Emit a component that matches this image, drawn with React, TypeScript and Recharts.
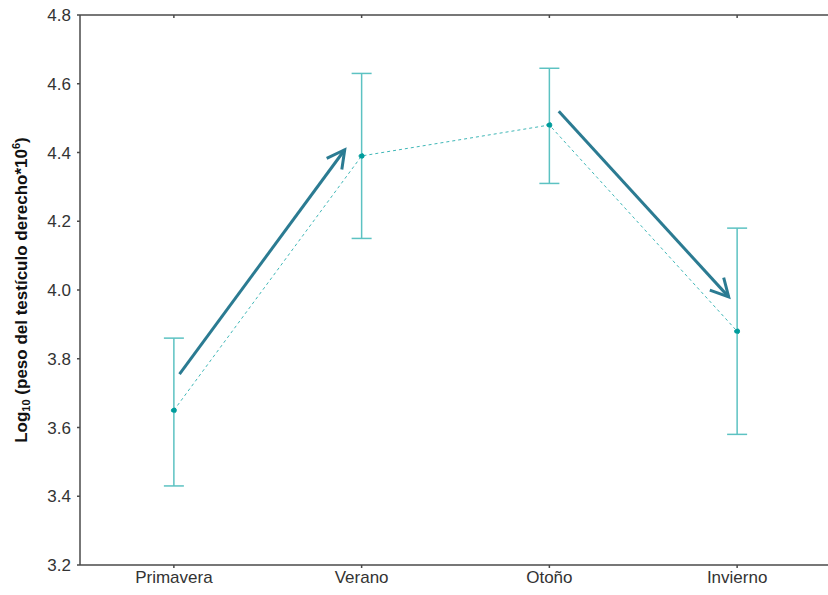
import { ComposedChart, Line, ErrorBar, XAxis, YAxis, ReferenceLine, Label } from "recharts";

// Seasonal means of log10 right-testis weight with their interval bounds
const seasons = ["Primavera", "Verano", "Otoño", "Invierno"];
const means = [3.65, 4.39, 4.48, 3.88];
const lower = [3.43, 4.15, 4.31, 3.58];
const upper = [3.86, 4.63, 4.645, 4.18];

const yTicks = [3.2, 3.4, 3.6, 3.8, 4.0, 4.2, 4.4, 4.6, 4.8];
const xTicks = [0, 1, 2, 3];

// Trend arrows, in data units (x = season index, y = log weight)
const arrowStart = [
  { x: 0.03, y: 3.755 },
  { x: 2.05, y: 4.52 },
];
const arrowEnd = [
  { x: 0.91, y: 4.408 },
  { x: 2.955, y: 3.98 },
];

const data = seasons.map((s, i) => ({
  idx: i,
  name: s,
  mean: means[i],
  err: [means[i] - lower[i], upper[i] - means[i]],
}));

const FONT = "'Liberation Sans', Arial, sans-serif";
const AXIS = "#4a4a4a";
const ARROW = "#2b7b92";

function Arrow(props: any) {
  const { x1, y1, x2, y2 } = props;
  const ang = Math.atan2(y1 - y2, x1 - x2);
  const len = 20;
  const spread = (28 * Math.PI) / 180;
  const w1 = { x: x2 + len * Math.cos(ang + spread), y: y2 + len * Math.sin(ang + spread) };
  const w2 = { x: x2 + len * Math.cos(ang - spread), y: y2 + len * Math.sin(ang - spread) };
  return (
    <g stroke={ARROW} strokeWidth={3} fill="none" strokeLinecap="butt" strokeLinejoin="miter">
      <line x1={x1} y1={y1} x2={x2} y2={y2} />
      <polyline points={`${w1.x},${w1.y} ${x2},${y2} ${w2.x},${w2.y}`} />
    </g>
  );
}

function YTitle() {
  return (
    <text
      transform="translate(27, 290) rotate(-90)"
      textAnchor="middle"
      fontFamily={FONT}
      fontWeight="bold"
      fontSize={17}
      fill="#111"
    >
      Log
      <tspan fontSize={11} dy={3}>10</tspan>
      <tspan dy={-3}> (peso del testículo derecho*10</tspan>
      <tspan fontSize={11} dy={-7}>6</tspan>
      <tspan dy={7}>)</tspan>
    </text>
  );
}

export default function App() {
  return (
    <div
      style={{
        position: "absolute",
        left: 0,
        top: 0,
        width: 828,
        height: 595,
        overflow: "hidden",
        background: "#fff",
      }}
    >
      <ComposedChart
        width={831}
        height={595}
        data={data}
        margin={{ top: 15, right: 0, bottom: 0, left: 0 }}
      >
        <XAxis
          dataKey="idx"
          type="number"
          domain={[-0.5, 3.5]}
          ticks={xTicks}
          tickFormatter={(v: number) => seasons[v]}
          height={30}
          stroke={AXIS}
          strokeWidth={1.5}
          tickSize={3}
          tickMargin={3}
          tick={{ fill: "#333", fontSize: 17, fontFamily: FONT }}
        />
        <XAxis
          xAxisId="top"
          orientation="top"
          dataKey="idx"
          type="number"
          domain={[-0.5, 3.5]}
          ticks={xTicks}
          mirror
          height={1}
          tickFormatter={() => ""}
          tickSize={3}
          stroke={AXIS}
          strokeWidth={1.5}
        />
        <YAxis
          type="number"
          domain={[3.2, 4.8]}
          ticks={yTicks}
          tickFormatter={(v: number) => v.toFixed(1)}
          width={80}
          stroke={AXIS}
          strokeWidth={1.5}
          tickSize={3}
          tickMargin={6}
          tick={{ fill: "#333", fontSize: 17, fontFamily: FONT }}
        >
          <Label content={<YTitle />} />
        </YAxis>
        <YAxis
          yAxisId="r"
          orientation="right"
          type="number"
          domain={[3.2, 4.8]}
          ticks={yTicks}
          mirror
          width={1}
          axisLine={false}
          tickLine={{ stroke: "#888", strokeWidth: 1 }}
          tickFormatter={() => ""}
          tickSize={3}
        />

        {arrowStart.map((s, i) => (
          <ReferenceLine
            key={i}
            segment={[s, arrowEnd[i]]}
            shape={(p: any) => <Arrow {...p} />}
            ifOverflow="visible"
          />
        ))}

        <Line
          dataKey="mean"
          stroke="#3fb7b7"
          strokeWidth={1}
          strokeDasharray="3 3"
          dot={{ r: 2.5, fill: "#009c9c", stroke: "#009c9c", strokeWidth: 1 }}
          isAnimationActive={false}
        >
          <ErrorBar
            dataKey="err"
            direction="y"
            width={10}
            stroke="#5cc2c2"
            strokeWidth={1.5}
          />
        </Line>
      </ComposedChart>
    </div>
  );
}
